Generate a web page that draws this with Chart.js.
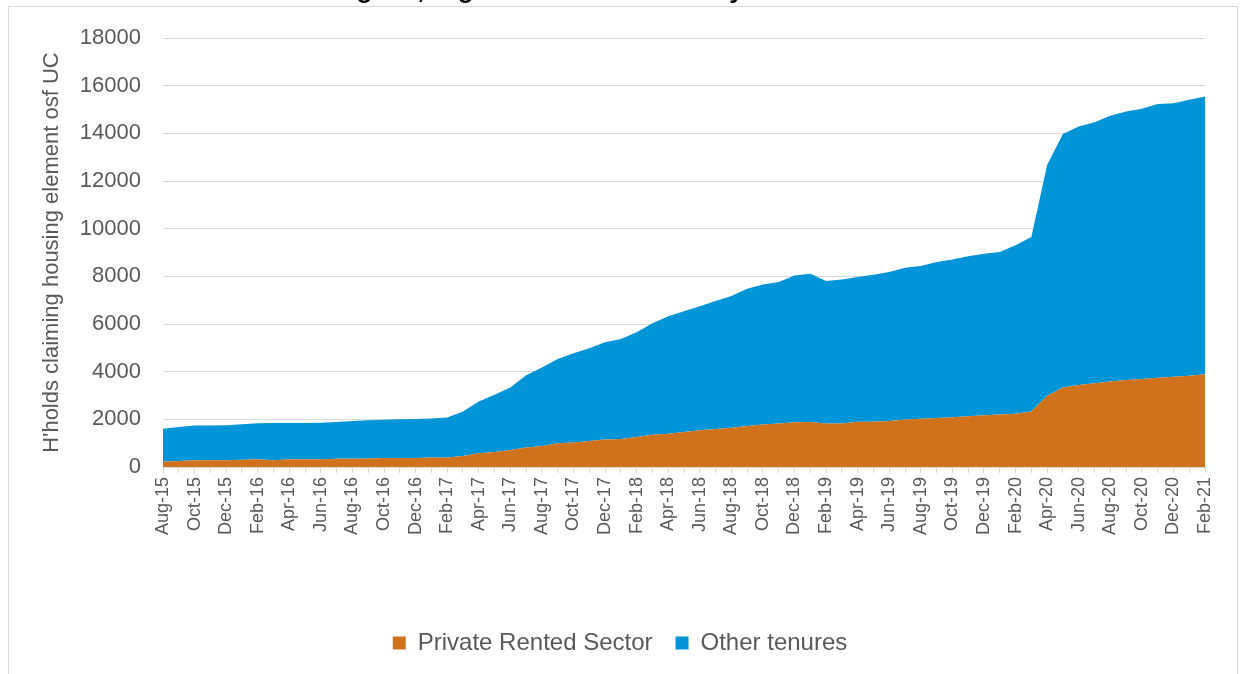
<!DOCTYPE html>
<html>
<head>
<meta charset="utf-8">
<script src="https://cdn.jsdelivr.net/npm/chart.js"></script>
<style>
  html, body { margin: 0; padding: 0; background: #fff; overflow: hidden; }
  #wrap { position: relative; width: 1243px; height: 674px; }
  #frame { position: absolute; left: 8px; top: 6px; width: 1228px; height: 700px; border: 1px solid #d9d9d9; }
  #title { position: absolute; left: 111px; top: -24px; font: bold 26px/26px "Liberation Sans", Arial, sans-serif; color: #000; white-space: nowrap; }
  canvas { position: absolute; left: 0; top: 0; }
</style>
</head>
<body>
<div id="wrap">
  <div id="frame"></div>
  <canvas id="myChart" width="1243" height="674"></canvas>
  <div id="title">Households claiming UC, Highland Council area by tenure</div>
</div>
<script>
const ctx = document.getElementById('myChart');

// months Aug-15 .. Feb-21
const months = [
  'Aug-15','Sep-15','Oct-15','Nov-15','Dec-15','Jan-16','Feb-16','Mar-16','Apr-16','May-16','Jun-16','Jul-16',
  'Aug-16','Sep-16','Oct-16','Nov-16','Dec-16','Jan-17','Feb-17','Mar-17','Apr-17','May-17','Jun-17','Jul-17',
  'Aug-17','Sep-17','Oct-17','Nov-17','Dec-17','Jan-18','Feb-18','Mar-18','Apr-18','May-18','Jun-18','Jul-18',
  'Aug-18','Sep-18','Oct-18','Nov-18','Dec-18','Jan-19','Feb-19','Mar-19','Apr-19','May-19','Jun-19','Jul-19',
  'Aug-19','Sep-19','Oct-19','Nov-19','Dec-19','Jan-20','Feb-20','Mar-20','Apr-20','May-20','Jun-20','Jul-20',
  'Aug-20','Sep-20','Oct-20','Nov-20','Dec-20','Jan-21','Feb-21'
];

const privateRented = [
  225, 250, 280, 280, 285, 300, 320, 280, 320, 320, 320, 350,
  350, 360, 375, 375, 375, 400, 400, 460, 580, 630, 715, 815,
  885, 1000, 1025, 1095, 1150, 1180, 1260, 1350, 1400, 1470, 1540, 1590,
  1650, 1725, 1780, 1825, 1880, 1890, 1825, 1830, 1895, 1900, 1935, 1990,
  2020, 2060, 2090, 2130, 2175, 2200, 2230, 2330, 2990, 3340, 3440, 3510,
  3590, 3650, 3690, 3750, 3790, 3830, 3890
];

const otherTenures = [
  1385, 1430, 1460, 1460, 1465, 1495, 1520, 1570, 1530, 1530, 1540, 1540,
  1585, 1600, 1605, 1625, 1635, 1635, 1680, 1870, 2170, 2400, 2625, 3035,
  3295, 3530, 3745, 3885, 4080, 4190, 4390, 4680, 4930, 5060, 5200, 5370,
  5520, 5755, 5880, 5935, 6160, 6220, 5975, 6040, 6075, 6170, 6245, 6370,
  6410, 6540, 6620, 6710, 6775, 6820, 7070, 7320, 9680, 10630, 10850, 10950,
  11150, 11270, 11340, 11480, 11470, 11580, 11660
];

Chart.defaults.font.family = '"Liberation Sans", Arial, sans-serif';
Chart.defaults.color = '#595959';

new Chart(ctx, {
  type: 'line',
  data: {
    labels: months,
    datasets: [
      {
        label: 'Private Rented Sector',
        data: privateRented,
        backgroundColor: '#d0711c',
        borderColor: '#d0711c',
        borderWidth: 0,
        pointRadius: 0,
        fill: 'origin'
      },
      {
        label: 'Other tenures',
        data: otherTenures,
        backgroundColor: '#0095d8',
        borderColor: '#0095d8',
        borderWidth: 0,
        pointRadius: 0,
        fill: '-1'
      }
    ]
  },
  options: {
    responsive: false,
    animation: false,
    layout: { padding: { left: 35, right: 38, top: 38, bottom: 9 } },
    plugins: {
      tooltip: { enabled: false },
      legend: {
        position: 'bottom',
        labels: { boxWidth: 13, boxHeight: 13, padding: 23, font: { size: 24 }, color: '#595959' }
      }
    },
    scales: {
      x: {
        grid: { drawOnChartArea: false, drawTicks: true, tickLength: 6, color: '#d9d9d9' },
        border: { color: '#d9d9d9' },
        ticks: {
          autoSkip: false, maxRotation: 90, minRotation: 90, padding: 4,
          font: { size: 18 },
          callback: (v, i) => (i % 2 === 0 ? months[i] : '')
        },
        afterFit: (s) => { s.height = 141; }
      },
      y: {
        stacked: true,
        min: 0,
        max: 18000,
        ticks: { stepSize: 2000, padding: 22, font: { size: 22 }, callback: (v) => String(v) },
        grid: { color: '#d9d9d9', drawTicks: false },
        border: { display: false },
        title: { display: true, text: "H'holds claiming housing element osf UC", font: { size: 22 }, color: '#595959' },
        afterFit: (s) => { s.width = 128; }
      }
    }
  }
});
</script>
</body>
</html>
